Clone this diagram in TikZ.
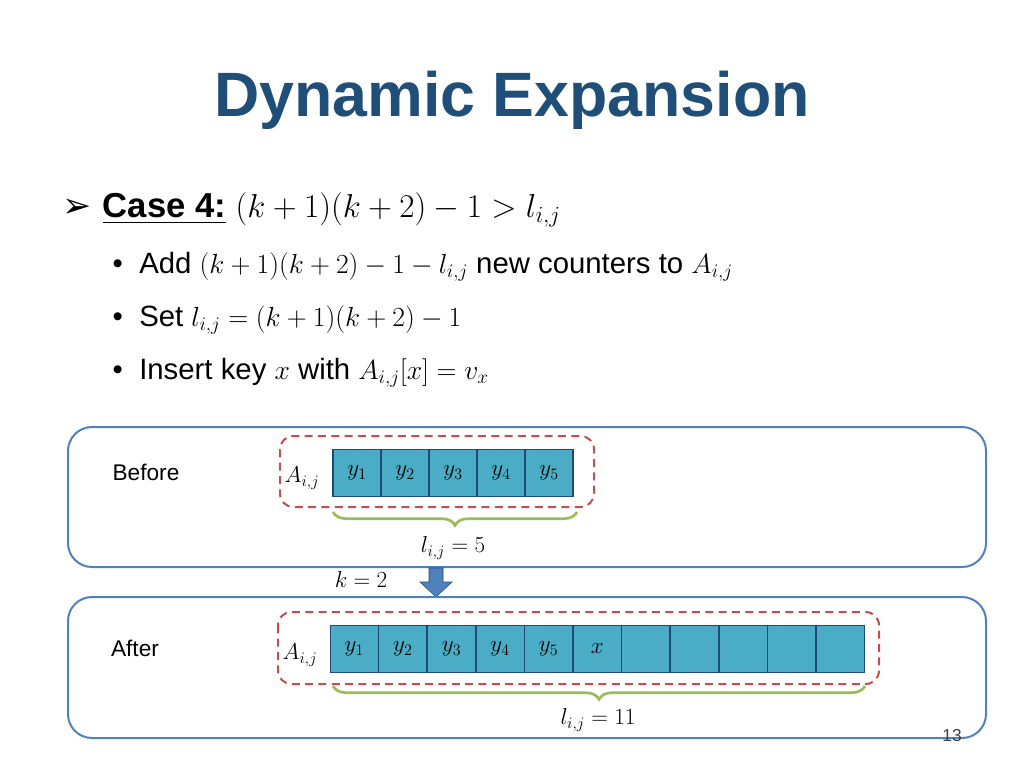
\documentclass[tikz,border=0pt]{standalone}
\usepackage{fontspec}
\usepackage{amsmath}
\setmainfont{Liberation Sans}
\usetikzlibrary{positioning,decorations.pathreplacing}
\definecolor{titleblue}{RGB}{31,78,121}
\definecolor{cellfill}{RGB}{75,172,198}
\definecolor{celledge}{RGB}{31,73,125}
\definecolor{bracegreen}{RGB}{155,187,89}
\definecolor{dashred}{RGB}{192,80,77}
\definecolor{panelblue}{RGB}{79,129,189}
\tikzset{
  cell/.style={draw=celledge,fill=cellfill,thick,minimum width=36pt,minimum height=35pt,inner sep=0pt,font=\fontsize{18}{20}\selectfont},
  panel/.style={draw=panelblue,line width=1.5pt,rounded corners=18pt},
  group/.style={draw=dashred,line width=1.5pt,dash pattern=on 6pt off 4pt,rounded corners=10pt},
  brc/.style={draw=bracegreen,line width=2pt,decorate,decoration={brace,mirror,amplitude=10pt}},
  bul/.style={anchor=west,font=\fontsize{22}{26}\selectfont},
  lbl/.style={font=\fontsize{17}{20}\selectfont}
}
\begin{document}
\begin{tikzpicture}[x=0.75pt,y=-0.75pt,>=latex]
    \useasboundingbox (0,0) rectangle (1024,768);
    \node[text=titleblue,font=\bfseries\fontsize{47}{54}\selectfont] (title) at (512,100) {Dynamic Expansion};
    \node[bul,font=\fontsize{26}{30}\selectfont] (case) at (58,210) {\fontspec{DejaVu Sans}\char"27A2\ \setmainfont{Liberation Sans}\textbf{\underline{Case 4:}} $(k+1)(k+2)-1>l_{i,j}$};
    \node[bul] (b1) at (108,267) {\textbullet\ \ Add $(k+1)(k+2)-1-l_{i,j}$ new counters to $A_{i,j}$};
    \node[bul] (b2) at (108,320) {\textbullet\ \ Set $l_{i,j}=(k+1)(k+2)-1$};
    \node[bul] (b3) at (108,373) {\textbullet\ \ Insert key $x$ with $A_{i,j}[x]=v_x$};
    % before
    \draw[panel] (68,427) rectangle (986,567);
    \node[lbl] (before) at (146,472) {Before};
    \draw[group] (280,436) rectangle (594,507);
    \node[lbl] (a1) at (302,478) {$A_{i,j}$};
    \foreach \i in {1,...,5}{
      \node[cell] (p\i) at ({357+48*(\i-1)},473) {$y_{\i}$};
    }
    \draw[brc] (333,512) -- (577,512);
    \node[lbl] (l1) at (453,548) {$l_{i,j}=5$};
    % expansion
    \node[lbl] (k) at (361,579) {$k=2$};
    \draw[draw=celledge,fill=panelblue] (429,568) -- (443,568) -- (443,582) -- (452,582)
      -- (436,597) -- (420,582) -- (429,582) -- cycle;
    % after
    \draw[panel] (68,597) rectangle (986,738);
    \node[lbl] (after) at (135,648) {After};
    \draw[group] (278,612) rectangle (879,684);
    \node[lbl] (a2) at (300,655) {$A_{i,j}$};
    \foreach \i in {1,...,5}{
      \node[cell] (q\i) at ({354.3+48.6*(\i-1)},649) {$y_{\i}$};
    }
    \node[cell] (q6) at (597.3,649) {$x$};
    \foreach \i in {7,...,11}{
      \node[cell] (q\i) at ({354.3+48.6*(\i-1)},649) {};
    }
    \draw[brc] (333,686) -- (865,686);
    \node[lbl] (l2) at (598,720) {$l_{i,j}=11$};
    \node[font=\fontsize{13}{15}\selectfont,text=black!75] (page) at (952,736) {13};
\end{tikzpicture}
\end{document}
